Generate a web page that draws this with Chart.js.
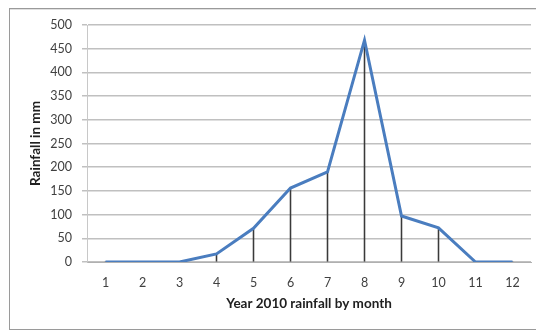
<!DOCTYPE html>
<html>
<head>
<meta charset="utf-8">
<script src="https://cdn.jsdelivr.net/npm/chart.js@4.4.1/dist/chart.umd.min.js"></script>
<style>
  html, body { margin: 0; padding: 0; background: #fff; }
  #wrap { position: relative; width: 536px; height: 331px; overflow: hidden; }
  #frame { position: absolute; left: 9px; top: 8px; width: 540px; height: 320px;
           border: 1px solid #9a9a9a; box-shadow: inset 0 1px 0 #e0e0e0; }
  canvas { position: absolute; left: 0; top: 0; }
</style>
</head>
<body>
<div id="wrap">
  <div id="frame"></div>
  <canvas id="c" width="536" height="331"></canvas>
</div>
<script>
// Monthly rainfall for 2010 (mm)
const months = ['1', '2', '3', '4', '5', '6', '7', '8', '9', '10', '11', '12'];
const rainfall = [0, 0, 0, 17, 71, 156, 190, 468, 97, 72, 0, 0];
const yTicks = [0, 50, 100, 150, 200, 250, 300, 350, 400, 450, 500];

const font = "Lato, 'Open Sans', sans-serif";

new Chart(document.getElementById('c'), {
  data: {
    labels: months,
    datasets: [
      {
        type: 'line',
        data: rainfall,
        borderColor: '#4a7dbf',
        borderWidth: 3,
        pointRadius: 0,
        tension: 0,
        order: 1
      },
      {
        // thin drop lines from each point to the axis
        type: 'bar',
        data: rainfall,
        backgroundColor: '#3a3a3a',
        barThickness: 0.9,
        order: 2
      }
    ]
  },
  options: {
    responsive: false,
    animation: false,
    layout: { padding: { left: 24, right: 5, top: 25, bottom: 0 } },
    plugins: { legend: { display: false }, tooltip: { enabled: false } },
    scales: {
      x: {
        offset: true,
        grid: { display: false, drawTicks: false },
        border: { display: true, color: '#b0b0b0', width: 1 },
        ticks: { color: '#404040', padding: 13, font: { family: font, size: 12.5 } },
        title: {
          display: true,
          text: 'Year 2010 rainfall by month',
          color: '#202020',
          font: { family: font, size: 13.5, weight: 'bold' },
          padding: { top: 4, bottom: 19 }
        },
        afterFit: s => { s.height = 69; }
      },
      y: {
        min: 0,
        max: 500,
        afterBuildTicks: s => { s.ticks = yTicks.map(v => ({ value: v })); },
        grid: { color: '#c0c0c0', lineWidth: 1.5, drawTicks: true, tickLength: 5 },
        border: { display: true, color: '#c8c8c8', width: 1 },
        ticks: { color: '#404040', padding: 10, font: { family: font, size: 12.5 } },
        title: {
          display: true,
          text: 'Rainfall in mm',
          color: '#202020',
          font: { family: font, size: 13.5, weight: 'bold' },
          padding: { top: 4, bottom: 0 }
        },
        afterFit: s => { s.width = 63; }
      }
    }
  }
});
</script>
</body>
</html>
